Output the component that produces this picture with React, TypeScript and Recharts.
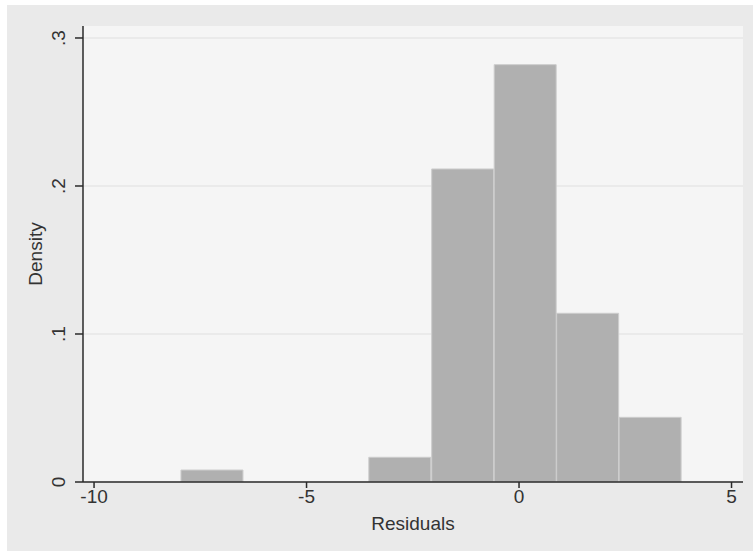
import React from "react";
import { ComposedChart, Bar, XAxis, YAxis, CartesianGrid } from "recharts";

// Histogram bins (midpoints of residual bins) and densities
const binMids = [-7.22, -5.74, -4.27, -2.8, -1.32, 0.15, 1.62, 3.09];
const densities = [0.0081, 0, 0, 0.0167, 0.2115, 0.282, 0.114, 0.0437];

const xTicks = [-10, -5, 0, 5];
const yTicks = [0, 0.1, 0.2, 0.3];
const yTickLabels = ["0", ".1", ".2", ".3"];

const xDomain = [-10.26, 5.27];
const yDomain = [0, 0.3081];

const data = binMids.map((mid, i) => ({ mid, density: densities[i] }));

const FONT = "'Liberation Sans', Arial, sans-serif";
const TEXT = "#333333";
const AXIS = "#2a2a2a";
const FS = 19;

const YTick = (props: any) => {
  const { x, y, payload } = props;
  const idx = yTicks.indexOf(payload.value);
  const label = idx >= 0 ? yTickLabels[idx] : String(payload.value);
  return (
    <text
      x={x}
      y={y}
      transform={`rotate(-90 ${x} ${y})`}
      textAnchor="middle"
      fill={TEXT}
      fontSize={FS}
      fontFamily={FONT}
    >
      {label}
    </text>
  );
};

const XTick = (props: any) => {
  const { x, y, payload } = props;
  return (
    <text x={x} y={y + 13} textAnchor="middle" fill={TEXT} fontSize={FS} fontFamily={FONT}>
      {payload.value}
    </text>
  );
};

const YLabel = (props: any) => {
  const vb = props.viewBox || {};
  const x = (vb.x || 0) + 35;
  const y = (vb.y || 0) + (vb.height || 0) / 2;
  return (
    <text
      x={x}
      y={y}
      transform={`rotate(-90 ${x} ${y})`}
      textAnchor="middle"
      fill={TEXT}
      fontSize={FS}
      fontFamily={FONT}
    >
      Density
    </text>
  );
};

const XLabel = (props: any) => {
  const vb = props.viewBox || {};
  const x = (vb.x || 0) + (vb.width || 0) / 2;
  const y = (vb.y || 0) + 48;
  return (
    <text x={x} y={y} textAnchor="middle" fill={TEXT} fontSize={FS} fontFamily={FONT}>
      Residuals
    </text>
  );
};

export default function App() {
  return (
    <div
      style={{
        position: "fixed",
        left: 7,
        top: 5,
        width: 746,
        height: 546,
        background: "#eaeaea",
      }}
    >
      <ComposedChart
        width={746}
        height={546}
        data={data}
        margin={{ top: 21, right: 10, bottom: 0, left: 0 }}
        barCategoryGap={0}
        barGap={0}
      >
        <CartesianGrid
          vertical={false}
          stroke="#e6e6e6"
          strokeWidth={1.5}
          fill="#f5f5f5"
          horizontalValues={yTicks}
        />
        <XAxis
          type="number"
          dataKey="mid"
          domain={xDomain}
          ticks={xTicks}
          allowDataOverflow
          height={69}
          tickSize={6}
          tickMargin={2}
          stroke={AXIS}
          strokeWidth={1.5}
          tickLine={{ stroke: AXIS, strokeWidth: 1.5 }}
          tick={<XTick />}
          label={<XLabel />}
        />
        <YAxis
          type="number"
          domain={yDomain}
          ticks={yTicks}
          allowDataOverflow
          width={76}
          tickSize={8}
          tickMargin={10}
          stroke={AXIS}
          strokeWidth={1.5}
          tickLine={{ stroke: AXIS, strokeWidth: 1.5 }}
          tick={<YTick />}
          label={<YLabel />}
        />
        <Bar
          dataKey="density"
          fill="#b0b0b0"
          stroke="#cdcdcd"
          strokeWidth={1}
          isAnimationActive={false}
        />
      </ComposedChart>
    </div>
  );
}
